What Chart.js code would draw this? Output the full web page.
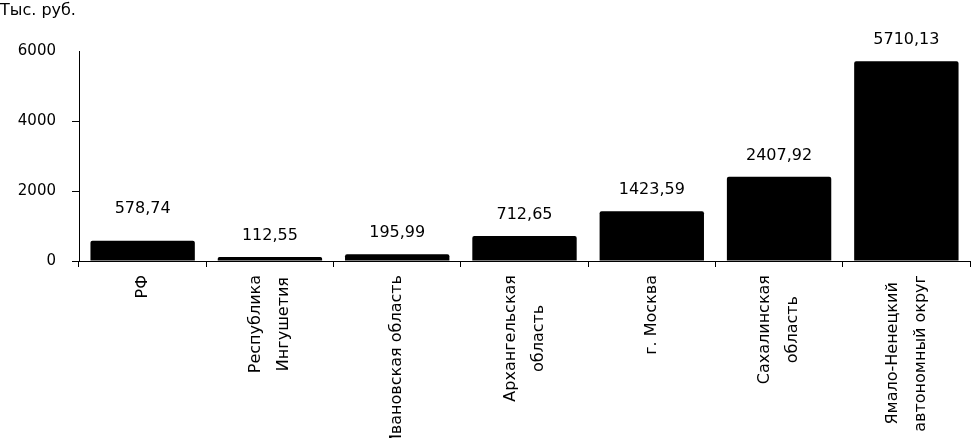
<!DOCTYPE html>
<html>
<head>
<meta charset="utf-8">
<script src="https://cdn.jsdelivr.net/npm/chart.js@4"></script>
<style>
  body { margin: 0; background: #fff; }
</style>
</head>
<body>
<canvas id="incomeChart" width="972" height="438"></canvas>
<script>
// Categories (regions) and values, thousand roubles
const regions = [
    "РФ",
    ["Республика", "Ингушетия"],
    "Ивановская область",
    ["Архангельская", "область"],
    "г. Москва",
    ["Сахалинская", "область"],
    ["Ямало-Ненецкий", "автономный округ"]
];
const values = [578.74, 112.55, 195.99, 712.65, 1423.59, 2407.92, 5710.13];
const valueLabels = ["578,74", "112,55", "195,99", "712,65", "1423,59", "2407,92", "5710,13"];
const yTicks = [0, 2000, 4000, 6000];

const FONT = "DejaVu Sans";

// Value labels above bars, the unit caption, and rotated category labels
const chartText = {
    id: "chartText",
    afterDraw(chart) {
        let ctx = chart.ctx;
        let meta = chart.getDatasetMeta(0);
        ctx.save();
        ctx.fillStyle = "#000";
        ctx.font = "16px '" + FONT + "'";
        ctx.textAlign = "center";
        ctx.textBaseline = "middle";
        meta.data.forEach((bar, i) => {
            let lift = i === 0 ? 32 : 21;
            ctx.fillText(valueLabels[i], bar.x, bar.y - lift);
        });

        ctx.textAlign = "left";
        ctx.textBaseline = "top";
        ctx.fillText("Тыс. руб.", 0, 3);

        // category labels, rotated -90deg, lines side by side and centered
        let xScale = chart.scales.x;
        let top = xScale.top + 14;
        let lineH = 28;
        ctx.textAlign = "center";
        ctx.textBaseline = "middle";
        regions.forEach((label, i) => {
            let lines = Array.isArray(label) ? label : [label];
            let longest = Math.max(...lines.map(l => ctx.measureText(l).width));
            let cx = xScale.getPixelForTick(i);
            let cy = top + longest / 2;
            lines.forEach((line, j) => {
                let x = cx + (j - (lines.length - 1) / 2) * lineH;
                ctx.save();
                ctx.translate(x, cy);
                ctx.rotate(-Math.PI / 2);
                ctx.fillText(line, 0, 0);
                ctx.restore();
            });
        });
        ctx.restore();
    }
};

let ctx = document.getElementById("incomeChart").getContext("2d");
window.incomeChartInstance = new Chart(ctx, {
    type: "bar",
    data: {
        labels: regions,
        datasets: [{
            data: values,
            backgroundColor: "#000",
            borderRadius: 2,
            borderSkipped: "bottom",
            barPercentage: 0.82,
            categoryPercentage: 1
        }]
    },
    options: {
        responsive: false,
        animation: false,
        layout: { padding: { top: 51, right: 2, left: 0, bottom: 0 } },
        plugins: {
            legend: { display: false },
            tooltip: { enabled: false }
        },
        scales: {
            x: {
                afterFit: (scale) => { scale.height = 177; },
                grid: {
                    offset: true,
                    drawOnChartArea: false,
                    drawTicks: true,
                    tickLength: 6,
                    color: "#000"
                },
                border: { display: true, color: "#000", width: 1 },
                ticks: { display: false, autoSkip: false }
            },
            y: {
                min: 0,
                max: 6000,
                afterFit: (scale) => { scale.width = 79; },
                afterBuildTicks: (scale) => { scale.ticks = yTicks.map(v => ({ value: v })); },
                grid: {
                    drawOnChartArea: false,
                    drawTicks: true,
                    tickLength: 7,
                    color: (c) => (c.tick && c.tick.value === 6000 ? "rgba(0,0,0,0)" : "#000")
                },
                border: { display: true, color: "#000", width: 1 },
                ticks: {
                    padding: 16,
                    color: "#000",
                    font: { family: FONT, size: 15 },
                    callback: (v) => String(v)
                }
            }
        }
    },
    plugins: [chartText]
});
</script>
</body>
</html>
